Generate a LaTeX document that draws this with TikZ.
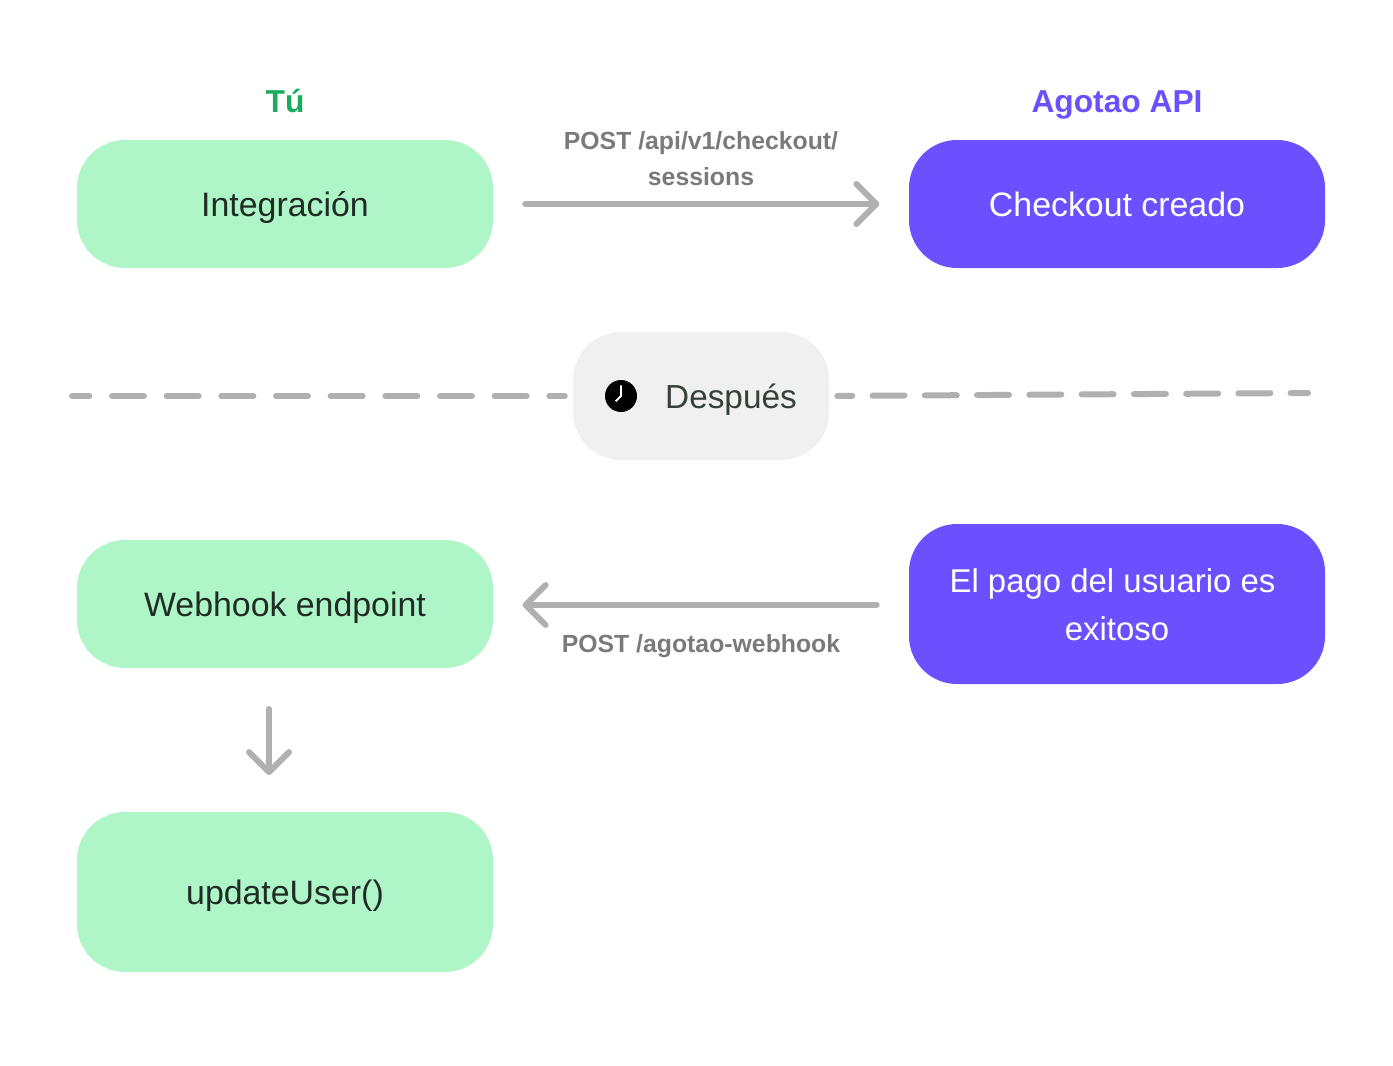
\documentclass[tikz,border=0pt]{standalone}
\usepackage{fontspec}
\setmainfont{Liberation Sans}
\usetikzlibrary{arrows.meta,positioning,calc}
\definecolor{mint}{RGB}{174,245,200}
\definecolor{leaf}{RGB}{26,171,95}
\definecolor{vio}{RGB}{108,79,255}
\definecolor{ink}{RGB}{32,44,36}
\definecolor{wire}{RGB}{176,176,176}
\definecolor{soft}{RGB}{240,240,240}
\definecolor{note}{RGB}{122,122,122}
\tikzset{
  box/.style={rounded corners=36pt,minimum width=312pt,minimum height=96pt,inner sep=0pt,
    font=\fontsize{25.4}{36}\selectfont,align=center,text height=24pt,text depth=6pt},
  you/.style={box,fill=mint,text=ink},
  api/.style={box,fill=vio,text=white},
  head/.style={font=\fontsize{23.8}{30}\bfseries\selectfont},
  tag/.style={text=note,font=\fontsize{18.6}{27}\bfseries\selectfont,align=center},
  arr/.style={-{Straight Barb[length=15pt,width=30pt,round]},line width=4.5pt,wire,line cap=round},
  gapline/.style={line width=4.5pt,wire,line cap=round},
}
\begin{document}
\begin{tikzpicture}[x=0.75pt,y=-0.75pt]
  \useasboundingbox (0,0) rectangle (1393,1065);
  % top row
  \node[you] (integracion) at (285,204) {Integración};
  \node[api] (checkout) at (1117,204) {Checkout creado};
  \node[head,text=leaf] (tu) at (285,101) {Tú};
  \node[head,text=vio] (agotao) at (1117,105) {Agotao API};
  \node[tag] (postcheckout) at (701,159) {POST /api/v1/checkout/\\ sessions};
  \draw[arr,shorten <=24pt,shorten >=22pt] (integracion.east) -- (checkout.west);
  % divider
  \node[box,fill=soft,minimum width=192pt] (despues) at (701,396) {};
  \node[font=\fontsize{25}{36}\selectfont,text=ink!90,text height=24pt,text depth=6pt] (despuestxt) at (731,396) {Después};
  \node[circle,fill=black,minimum size=24pt,inner sep=0pt] (clock) at (621,396) {};
  \draw[white,line width=1.4pt] ([yshift=8pt]clock.center) -- ([yshift=0pt]clock.center) -- ([xshift=-4pt,yshift=-4pt]clock.center);
  \coordinate (dashl) at (72,396);
  \coordinate (dashr) at (1308,393);
  \draw[gapline,dash pattern=on 24pt off 17pt,dash phase=11pt,shorten >=6pt] (dashl) -- (despues.west);
  \draw[gapline,dash pattern=on 24pt off 15.2pt,dash phase=12.75pt,shorten <=6pt] (despues.east) -- (dashr);
  % bottom rows
  \node[you] (webhook) at (285,604) {Webhook endpoint};
  \node[api,minimum height=120pt,text height=58.5pt,text depth=4.5pt,font=\fontsize{24.7}{36}\selectfont] (pago) at (1117,604) {El pago del usuario es\hspace*{6.75pt}\\ exitoso};
  \node[you,minimum height=120pt] (update) at (285,892) {updateUser()};
  \node[tag] (postwebhook) at (701,646) {POST /agotao-webhook};
  \draw[arr,shorten <=24pt,shorten >=22pt] ([yshift=-.75pt]pago.west) -- ([yshift=-.75pt]webhook.east);
  \draw[arr,shorten <=30.5pt,shorten >=27.5pt] ([xshift=-12pt]webhook.south) -- ([xshift=-12pt]update.north);
\end{tikzpicture}
\end{document}
